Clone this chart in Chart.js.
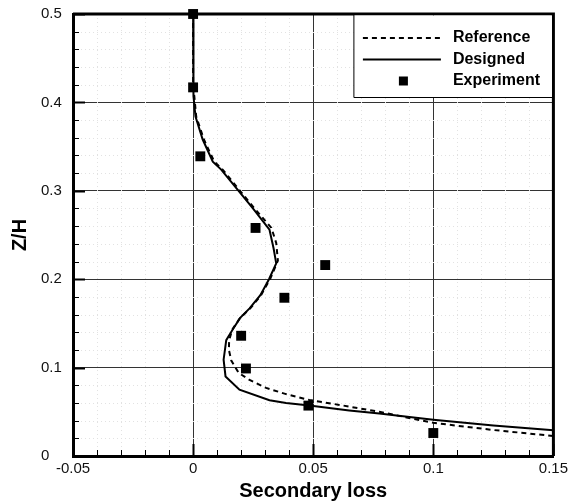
<!DOCTYPE html>
<html>
<head>
<meta charset="utf-8">
<script src="https://cdn.jsdelivr.net/npm/chart.js@4.4.1/dist/chart.umd.min.js"></script>
<style>
    html, body { margin: 0; padding: 0; background: #fff; }
    #wrap { width: 572px; height: 504px; }
</style>
</head>
<body>
<div id="wrap"><canvas id="loss-chart"></canvas></div>
<script>
// spanwise profile of secondary loss
const refLoss = [0, 0, 0.0005, 0.0013, 0.0045, 0.0088, 0.0123, 0.0192, 0.0256, 0.0326, 0.0346, 0.0353, 0.0322, 0.0283, 0.0238, 0.0195, 0.0163, 0.0150, 0.0149, 0.0159, 0.0190, 0.0235, 0.0304, 0.0387, 0.0484, 0.0609, 0.0775, 0.100, 0.125, 0.150]
const refZ    = [0.500, 0.418, 0.407, 0.384, 0.358, 0.333, 0.324, 0.301, 0.280, 0.258, 0.241, 0.221, 0.201, 0.182, 0.167, 0.156, 0.143, 0.131, 0.120, 0.108, 0.094, 0.086, 0.077, 0.070, 0.0634, 0.0578, 0.050, 0.0375, 0.0294, 0.0227]

const desLoss = [0, 0, 0.0003, 0.0010, 0.0040, 0.0082, 0.0117, 0.0186, 0.0249, 0.0318, 0.0335, 0.0346, 0.0316, 0.0280, 0.0235, 0.0195, 0.0165, 0.0138, 0.0127, 0.0135, 0.0193, 0.0318, 0.0387, 0.0484, 0.065, 0.0775, 0.100, 0.125, 0.150]
const desZ    = [0.500, 0.418, 0.407, 0.384, 0.358, 0.333, 0.324, 0.301, 0.280, 0.256, 0.235, 0.218, 0.200, 0.182, 0.167, 0.156, 0.143, 0.131, 0.109, 0.090, 0.075, 0.063, 0.060, 0.057, 0.0515, 0.048, 0.041, 0.0345, 0.029]

const expLoss = [0, 0, 0.003, 0.026, 0.055, 0.038, 0.020, 0.022, 0.048, 0.100]
const expZ    = [0.500, 0.417, 0.339, 0.258, 0.216, 0.179, 0.136, 0.099, 0.057, 0.026]

const seriesNames = ['Reference', 'Designed', 'Experiment']

function pairs(xs, ys) {
    return xs.map((x, i) => ({ x: x, y: ys[i] }))
}

// 0.10 -> "0.1", 0.00 -> "0"
function shortNum(v) {
    return String(+v.toFixed(3))
}

Chart.defaults.font.family = "'Liberation Sans', Arial, sans-serif"
Chart.defaults.color = '#111'

// dotted minor grid + inward tick marks on the left and bottom axes
const minorGrid = {
    id: 'minorGrid',
    beforeDatasetsDraw(chart) {
        const ctx = chart.ctx
        const a = chart.chartArea
        const xs = chart.scales.x, ys = chart.scales.y
        ctx.save()
        ctx.strokeStyle = '#e2e2e2'
        ctx.lineWidth = 1
        ctx.setLineDash([1, 3])
        for (let i = -4; i <= 14; i++) {
            if (i % 5 === 0) continue
            const px = Math.round(xs.getPixelForValue(i / 100)) + 0.5
            ctx.beginPath(); ctx.moveTo(px, a.top); ctx.lineTo(px, a.bottom); ctx.stroke()
        }
        for (let i = 1; i < 25; i++) {
            if (i % 5 === 0) continue
            const py = Math.round(ys.getPixelForValue(i / 50)) + 0.5
            ctx.beginPath(); ctx.moveTo(a.left, py); ctx.lineTo(a.right, py); ctx.stroke()
        }
        ctx.setLineDash([])
        ctx.strokeStyle = '#000'
        for (let i = -5; i <= 15; i++) {
            const major = i % 5 === 0
            const px = Math.round(xs.getPixelForValue(i / 100)) + 0.5
            ctx.lineWidth = major ? 2 : 1
            ctx.beginPath(); ctx.moveTo(px, a.bottom); ctx.lineTo(px, a.bottom - (major ? 12 : 6)); ctx.stroke()
        }
        for (let i = 0; i <= 25; i++) {
            const major = i % 5 === 0
            const py = Math.round(ys.getPixelForValue(i / 50)) + 0.5
            ctx.lineWidth = major ? 2 : 1
            ctx.beginPath(); ctx.moveTo(a.left, py); ctx.lineTo(a.left + (major ? 12 : 6), py); ctx.stroke()
        }
        ctx.restore()
    },
    afterDatasetsDraw(chart) {
        // top and right edges of the frame
        const ctx = chart.ctx
        const a = chart.chartArea
        ctx.save()
        ctx.strokeStyle = '#000'
        ctx.lineWidth = 3
        ctx.beginPath()
        ctx.moveTo(a.left, a.top); ctx.lineTo(a.right, a.top); ctx.lineTo(a.right, a.bottom)
        ctx.stroke()
        ctx.restore()
    }
}

// boxed legend tucked into the top right corner
const boxLegend = {
    id: 'boxLegend',
    afterDraw(chart) {
        const ctx = chart.ctx
        const a = chart.chartArea
        const left = a.right - 199.5, top = a.top, bottom = a.top + 83.5
        ctx.save()
        ctx.fillStyle = '#fff'
        ctx.fillRect(left, top + 1.5, a.right - 1.5 - left, bottom - top - 1.5)
        ctx.strokeStyle = '#000'
        ctx.lineWidth = 1
        ctx.beginPath()
        ctx.moveTo(left, top); ctx.lineTo(left, bottom); ctx.lineTo(a.right, bottom)
        ctx.stroke()

        const rows = [top + 24, top + 45.5, top + 67]
        chart.data.datasets.forEach((ds, i) => {
            const y = rows[i]
            if (ds.showLine) {
                ctx.strokeStyle = ds.borderColor
                ctx.lineWidth = ds.borderWidth
                ctx.setLineDash(ds.borderDash || [])
                ctx.beginPath(); ctx.moveTo(left + 9, y); ctx.lineTo(left + 87, y); ctx.stroke()
                ctx.setLineDash([])
            } else {
                ctx.fillStyle = ds.backgroundColor
                ctx.fillRect(left + 45, y - 4.5, 9, 9)
            }
            ctx.fillStyle = '#000'
            ctx.font = "bold 16px 'Liberation Sans', Arial, sans-serif"
            ctx.textBaseline = 'middle'
            ctx.fillText(ds.label, left + 99, y)
        })
        ctx.restore()
    }
}

const cfg = {
    type: 'scatter',
    data: {
        datasets: [
            {
                label: seriesNames[0],
                data: pairs(refLoss, refZ),
                showLine: true,
                borderColor: '#000',
                borderWidth: 2,
                borderDash: [5, 4],
                pointRadius: 0,
                order: 1
            },
            {
                label: seriesNames[1],
                data: pairs(desLoss, desZ),
                showLine: true,
                borderColor: '#000',
                borderWidth: 2,
                pointRadius: 0,
                order: 1
            },
            {
                label: seriesNames[2],
                data: pairs(expLoss, expZ),
                showLine: false,
                pointStyle: 'rect',
                pointRadius: 7,
                backgroundColor: '#000',
                borderWidth: 0,
                clip: false,
                order: 0
            }
        ]
    },
    options: {
        responsive: true,
        maintainAspectRatio: false,
        animation: false,
        events: [],
        layout: { padding: { left: 41, right: 17, top: 14, bottom: 0 } },
        plugins: {
            legend: { display: false },
            tooltip: { enabled: false }
        },
        scales: {
            x: {
                type: 'linear',
                min: -0.05,
                max: 0.15,
                ticks: { stepSize: 0.05, padding: 4, font: { size: 15 }, maxRotation: 0, callback: shortNum },
                grid: { color: '#333', lineWidth: 1, drawTicks: false },
                border: { display: true, color: '#000', width: 3 },
                title: { display: true, text: 'Secondary loss', color: '#000', font: { size: 20, weight: 'bold' }, padding: { top: 0, bottom: 1 } },
                afterFit: (s) => { s.height = 48 }
            },
            y: {
                type: 'linear',
                min: 0,
                max: 0.5,
                ticks: { stepSize: 0.1, crossAlign: 'far', font: { size: 15 }, callback: shortNum },
                grid: { color: '#333', lineWidth: 1, drawTicks: false },
                border: { display: true, color: '#000', width: 3 },
                // pull the title back out into the left margin
                title: { display: true, text: 'Z/H', color: '#000', font: { size: 20, weight: 'bold' }, padding: { top: -33, bottom: 0 } },
                afterFit: (s) => { s.width = 32 }
            }
        }
    },
    plugins: [minorGrid, boxLegend]
}

document.addEventListener('DOMContentLoaded', () => {
    new Chart(document.getElementById('loss-chart'), cfg)
})
</script>
</body>
</html>
